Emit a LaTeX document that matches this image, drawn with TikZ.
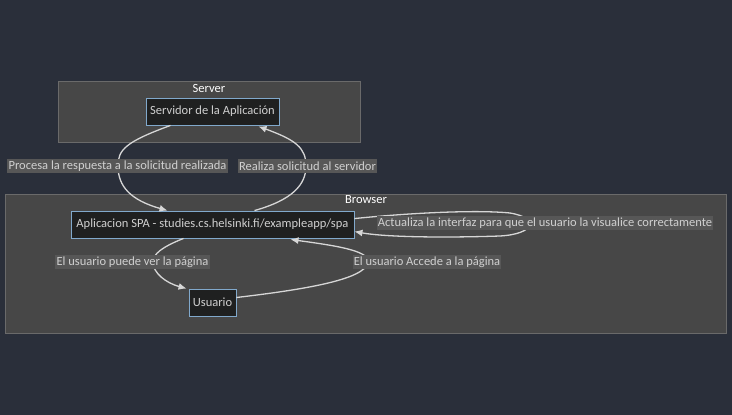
\documentclass[tikz,border=0pt]{standalone}
\usepackage{fontspec}
\setmainfont{Carlito}
\usetikzlibrary{arrows.meta,calc}
\definecolor{bgc}{HTML}{2A2F3A}
\definecolor{clfill}{HTML}{474747}
\definecolor{cldraw}{HTML}{6A6A6A}
\definecolor{ndfill}{HTML}{1F2020}
\definecolor{nddraw}{HTML}{81A9CC}
\definecolor{lblfill}{HTML}{575757}
\definecolor{txtc}{HTML}{D0D0D0}
\definecolor{linec}{HTML}{D6D6D6}
\begin{document}
\begin{tikzpicture}[x=1pt,y=-1pt,font=\fontsize{12.5}{14}\selectfont,
  cluster/.style={draw=cldraw,fill=clfill,line width=0.8pt,inner sep=0pt},
  cltitle/.style={text=white,inner sep=0pt},
  box/.style={draw=nddraw,fill=ndfill,line width=0.9pt,inner sep=0pt,text=txtc,minimum height=27pt},
  elabel/.style={fill=lblfill,text=txtc,inner sep=1.2pt,minimum height=14pt},
  edge/.style={draw=linec,line width=1.3pt,-{Latex[length=8pt,width=7pt]}}]
\fill[bgc] (0,0) rectangle (732,415);
\useasboundingbox (0,0) rectangle (732,415);
% clusters
\node[cluster,minimum width=302pt,minimum height=61pt] (servercl) at (209,111.5) {};
\node[cltitle] (servertitle) at (209,88) {Server};
\node[cluster,minimum width=721pt,minimum height=139pt] (browsercl) at (365.5,263.5) {};
\node[cltitle] (browsertitle) at (366,200) {Browser};
% nodes
\node[box,minimum width=133pt] (serv) at (212.5,111.5) {Servidor de la Aplicación};
\node[box,minimum width=283pt] (spa) at (212.5,224.5) {Aplicacion SPA - studies.cs.helsinki.fi/exampleapp/spa};
\node[box,minimum width=47pt] (usr) at (212.5,302.5) {Usuario};
% edges
\draw[edge] ($(serv.south)+(-42,0)$) .. controls (125,142) and (118,150) .. (118,166)
  .. controls (118,186) and (130,200) .. ($(spa.north)+(-45,0)$);
\draw[edge] ($(spa.north)+(42,0)$) .. controls (292,200) and (306,185) .. (306,166)
  .. controls (306,148) and (296,140) .. ($(serv.south)+(46,1)$);
\draw[edge] ($(spa.north east)+(0,8)$) .. controls (420,212) and (480,210) .. (510,213)
  .. controls (540,218) and (535,234) .. (500,236)
  .. controls (440,238) and (385,237) .. ($(spa.north east)+(0,21)$);
\draw[edge] ($(spa.south)+(-29,0)$) .. controls (162,247) and (153,254) .. (153,262)
  .. controls (153,273) and (166,283) .. ($(usr.north west)+(-2,0)$);
\draw[edge] ($(usr.east)+(0,-5)$) .. controls (300,290) and (366,280) .. (368,262)
  .. controls (370,250) and (330,245) .. ($(spa.south)+(78,1)$);
% edge labels
\node[elabel] (l1) at (117.5,166) {Procesa la respuesta a la solicitud realizada};
\node[elabel] (l2) at (307.5,166) {Realiza solicitud al servidor};
\node[elabel] (l3) at (545,223) {Actualiza la interfaz para que el usuario la visualice correctamente};
\node[elabel] (l4) at (132.5,262) {El usuario puede ver la página};
\node[elabel] (l5) at (427,262) {El usuario Accede a la página};
\end{tikzpicture}
\end{document}
